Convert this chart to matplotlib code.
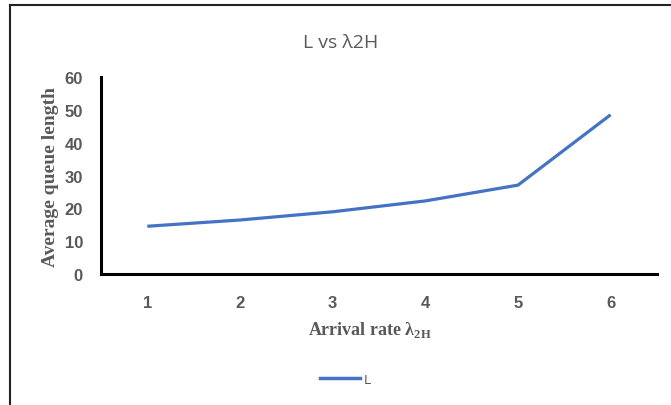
import matplotlib.pyplot as plt
from matplotlib.lines import Line2D

plt.rcParams["mathtext.fontset"] = "custom"
plt.rcParams["mathtext.rm"] = "Liberation Serif:bold"
plt.rcParams["mathtext.bf"] = "Liberation Serif:bold"

# arrival rate lambda_2H vs average queue length L
arrival_rate = [1, 2, 3, 4, 5, 6]
queue_length = [14.6, 16.5, 19.0, 22.3, 27.1, 48.5]
y_ticks = [0, 10, 20, 30, 40, 50, 60]

grey = "#595959"
blue = "#4472C4"

fig = plt.figure(figsize=(6.71, 4.06), dpi=100)
ax = fig.add_axes([0.1505, 0.322, 0.8285, 0.486])

ax.plot(arrival_rate, queue_length, color=blue, linewidth=2.3, solid_capstyle="butt")

ax.set_xlim(0.5, 6.5)
ax.set_ylim(0, 60)
ax.set_xticks(arrival_rate)
ax.set_yticks(y_ticks)
ax.tick_params(length=0, labelsize=12, labelcolor=grey)
ax.tick_params(axis="x", pad=15)
ax.tick_params(axis="y", pad=13)
for lab in ax.get_xticklabels() + ax.get_yticklabels():
    lab.set_fontweight("bold")
    lab.set_family("Liberation Sans")

for s in ["top", "right"]:
    ax.spines[s].set_visible(False)
for s in ["left", "bottom"]:
    ax.spines[s].set_linewidth(2.2)
    ax.spines[s].set_color("black")

ax.set_ylabel("Average queue length", family="Liberation Serif", fontweight="bold",
              fontsize=14, color=grey, labelpad=4)
fig.text(0.552, 0.188, r"Arrival rate $\mathrm{λ}_{\mathrm{2H}}$", family="Liberation Serif",
         fontweight="bold", fontsize=13, color=grey, ha="center", va="center")

fig.text(0.507, 0.895, "L vs λ2H", fontsize=14, color=grey, ha="center", va="center",
         family="Open Sans")

handle = Line2D([], [], color=blue, linewidth=2.5)
fig.legend([handle], ["L"], loc="center", bbox_to_anchor=(0.515, 0.064), frameon=False,
           fontsize=9, labelcolor=grey, handlelength=3.2, handletextpad=0.3)

# outer chart border (left and top)
fig.add_artist(Line2D([0.0145, 0.0145], [0, 0.985], color="#222222", linewidth=1.5,
                      transform=fig.transFigure))
fig.add_artist(Line2D([0.0145, 1.0], [0.985, 0.985], color="#222222", linewidth=1.5,
                      transform=fig.transFigure))

fig.savefig("out.png", dpi=100)
